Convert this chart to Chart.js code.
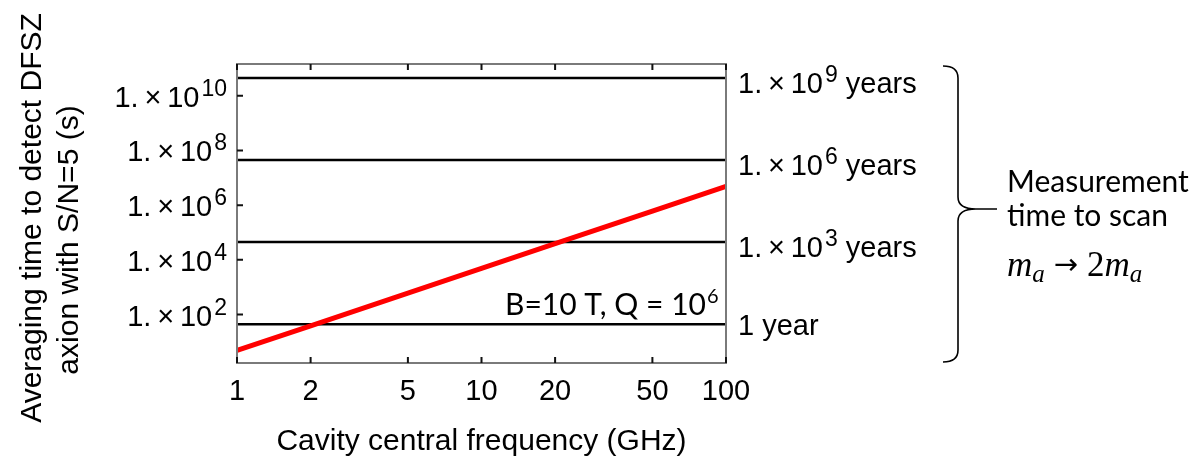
<!DOCTYPE html>
<html>
<head>
<meta charset="utf-8">
<script src="https://cdn.jsdelivr.net/npm/chart.js@4"></script>
<style>
  body { margin: 0; background: #fff; }
  #wrap { width: 1199px; height: 458px; }
</style>
</head>
<body>
<div id="wrap"><canvas id="myChart" width="1199" height="458"></canvas></div>
<script>
// data
const freqs = [1, 2, 5, 10, 20, 50, 100];
const avgTimes = [4.9, 39, 610, 4900, 39000, 610000, 4900000];
const xTickValues = [1, 2, 5, 10, 20, 50, 100];
const xTickLabels = ["1", "2", "5", "10", "20", "50", "100"];
const yTickValues = [1e2, 1e4, 1e6, 1e8, 1e10];
const yTickExps = ["2", "4", "6", "8", "10"];
const scanLineValues = [44.7, 4.47e4, 4.47e7, 4.47e10];
const scanLineExps = [null, "3", "6", "9"];

const mainFont = "29px 'Liberation Sans', Arial, sans-serif";
const supFont = "23px 'Liberation Sans', Arial, sans-serif";
const titleFont = "30px 'Liberation Sans', Arial, sans-serif";
const noteFont = "30px Lato, 'Open Sans', sans-serif";

function flatLine(v) {
  return [{ x: freqs[0], y: v }, { x: freqs[freqs.length - 1], y: v }];
}

// draws "1.×10^exp rest", align 'left' or 'right' at x
function drawPow(ctx, x, y, exp, rest, align) {
  const base = "1.\u2009×\u200910";
  ctx.font = mainFont;
  const wBase = ctx.measureText(base).width;
  ctx.font = supFont;
  const wExp = ctx.measureText(exp).width;
  ctx.font = mainFont;
  const wRest = rest ? ctx.measureText(rest).width : 0;
  let x0 = align === "right" ? x - (wBase + 2 + wExp + wRest) : x;
  ctx.textAlign = "left";
  ctx.textBaseline = "alphabetic";
  ctx.font = mainFont;
  ctx.fillText(base, x0, y);
  ctx.font = supFont;
  ctx.fillText(exp, x0 + wBase + 2, y - 11);
  if (rest) {
    ctx.font = mainFont;
    ctx.fillText(rest, x0 + wBase + 2 + wExp, y);
  }
}

const extras = {
  id: "extras",
  afterDraw(chart) {
    const ctx = chart.ctx;
    const area = chart.chartArea;
    const xs = chart.scales.x;
    const ys = chart.scales.y;
    ctx.save();

    // frame
    ctx.strokeStyle = "#7a7a7a";
    ctx.lineWidth = 2;
    ctx.strokeRect(area.left, area.top, area.right - area.left, area.bottom - area.top);

    // inward tick marks
    ctx.strokeStyle = "#111";
    ctx.lineWidth = 2;
    ctx.beginPath();
    xTickValues.forEach((v) => {
      const px = xs.getPixelForValue(v);
      ctx.moveTo(px, area.bottom);
      ctx.lineTo(px, area.bottom - 6);
      ctx.moveTo(px, area.top);
      ctx.lineTo(px, area.top + 6);
    });
    yTickValues.forEach((v) => {
      const py = ys.getPixelForValue(v);
      ctx.moveTo(area.left, py);
      ctx.lineTo(area.left + 6, py);
    });
    ctx.stroke();

    ctx.fillStyle = "#000";

    // y tick labels
    yTickValues.forEach((v, i) => {
      const py = ys.getPixelForValue(v);
      drawPow(ctx, 227, py + 11, yTickExps[i], null, "right");
    });

    // labels next to the scan-time lines
    scanLineValues.forEach((v, i) => {
      const py = ys.getPixelForValue(v);
      if (scanLineExps[i]) {
        drawPow(ctx, 738, py + 15, scanLineExps[i], " years", "left");
      } else {
        ctx.font = mainFont;
        ctx.textAlign = "left";
        ctx.fillText("1 year", 738, py + 11);
      }
    });

    // B, Q note
    ctx.font = noteFont;
    ctx.textAlign = "left";
    const note = "B=10 T, Q = 10";
    ctx.fillText(note, 505, 315);
    const wNote = ctx.measureText(note).width;
    ctx.font = "20px Lato, 'Open Sans', sans-serif";
    ctx.fillText("6", 505 + wNote + 1, 303);

    // axis titles
    ctx.font = titleFont;
    ctx.textAlign = "center";
    ctx.fillText("Cavity central frequency (GHz)", (area.left + area.right) / 2, 450);

    ctx.save();
    ctx.translate(41, 218);
    ctx.rotate(-Math.PI / 2);
    ctx.fillText("Averaging time to detect DFSZ", 0, 0);
    ctx.restore();
    ctx.save();
    ctx.translate(78, 240);
    ctx.rotate(-Math.PI / 2);
    ctx.fillText("axion with S/N=5 (s)", 0, 0);
    ctx.restore();

    // brace
    ctx.strokeStyle = "#000";
    ctx.lineWidth = 1.6;
    ctx.beginPath();
    ctx.moveTo(943, 66);
    ctx.quadraticCurveTo(958, 66, 958, 78);
    ctx.lineTo(958, 197);
    ctx.quadraticCurveTo(958, 209, 976, 209);
    ctx.lineTo(997, 209);
    ctx.moveTo(976, 209);
    ctx.quadraticCurveTo(958, 209, 958, 221);
    ctx.lineTo(958, 350);
    ctx.quadraticCurveTo(958, 362, 943, 362);
    ctx.stroke();

    ctx.font = noteFont;
    ctx.textAlign = "left";
    ctx.fillText("Measurement", 1007, 192);
    ctx.fillText("time to scan", 1007, 226);

    // m_a -> 2m_a
    let mx = 1007;
    const my = 276;
    const mathFont = "italic 35px 'Liberation Serif', 'DejaVu Serif', serif";
    const subFont = "italic 25px 'Liberation Serif', 'DejaVu Serif', serif";
    const upFont = "35px 'Liberation Serif', 'DejaVu Serif', serif";
    ctx.font = mathFont;
    ctx.fillText("m", mx, my);
    mx += ctx.measureText("m").width;
    ctx.font = subFont;
    ctx.fillText("a", mx, my + 6);
    mx += ctx.measureText("a").width + 9;
    ctx.font = "29px 'DejaVu Sans', sans-serif";
    ctx.fillText("\u2192", mx, my - 2);
    mx += ctx.measureText("\u2192").width + 9;
    ctx.font = upFont;
    ctx.fillText("2", mx, my);
    mx += ctx.measureText("2").width;
    ctx.font = mathFont;
    ctx.fillText("m", mx, my);
    mx += ctx.measureText("m").width;
    ctx.font = subFont;
    ctx.fillText("a", mx, my + 6);

    ctx.restore();
  },
};

const ctx = document.getElementById("myChart");
const myChart = new Chart(ctx, {
  type: "line",
  data: {
    datasets: [
      {
        data: freqs.map((f, i) => ({ x: f, y: avgTimes[i] })),
        borderColor: "#ff0000",
        borderWidth: 5,
        pointRadius: 0,
        order: 0,
      },
      ...scanLineValues.map((v) => ({
        data: flatLine(v),
        borderColor: "#000",
        borderWidth: 2.5,
        pointRadius: 0,
        order: 1,
      })),
    ],
  },
  plugins: [extras],
  options: {
    responsive: false,
    animation: false,
    events: [],
    layout: {
      padding: { top: 64, right: 473, left: 0, bottom: 0 },
    },
    plugins: {
      legend: { display: false },
      tooltip: { enabled: false },
    },
    scales: {
      x: {
        type: "logarithmic",
        min: 1,
        max: 100,
        grid: { display: false, drawTicks: false },
        border: { display: false },
        afterBuildTicks: (scale) => {
          scale.ticks = xTickValues.map((v) => ({ value: v }));
        },
        afterFit: (scale) => {
          scale.height = 95;
        },
        ticks: {
          autoSkip: false,
          maxRotation: 0,
          padding: 12,
          color: "#000",
          font: { family: "'Liberation Sans', Arial, sans-serif", size: 29 },
          callback: (value) => xTickLabels[xTickValues.indexOf(value)],
        },
      },
      y: {
        type: "logarithmic",
        min: 1.7,
        max: 1.44e11,
        grid: { display: false, drawTicks: false },
        border: { display: false },
        ticks: { display: false },
        afterFit: (scale) => {
          scale.width = 237;
        },
      },
    },
  },
});
</script>
</body>
</html>
